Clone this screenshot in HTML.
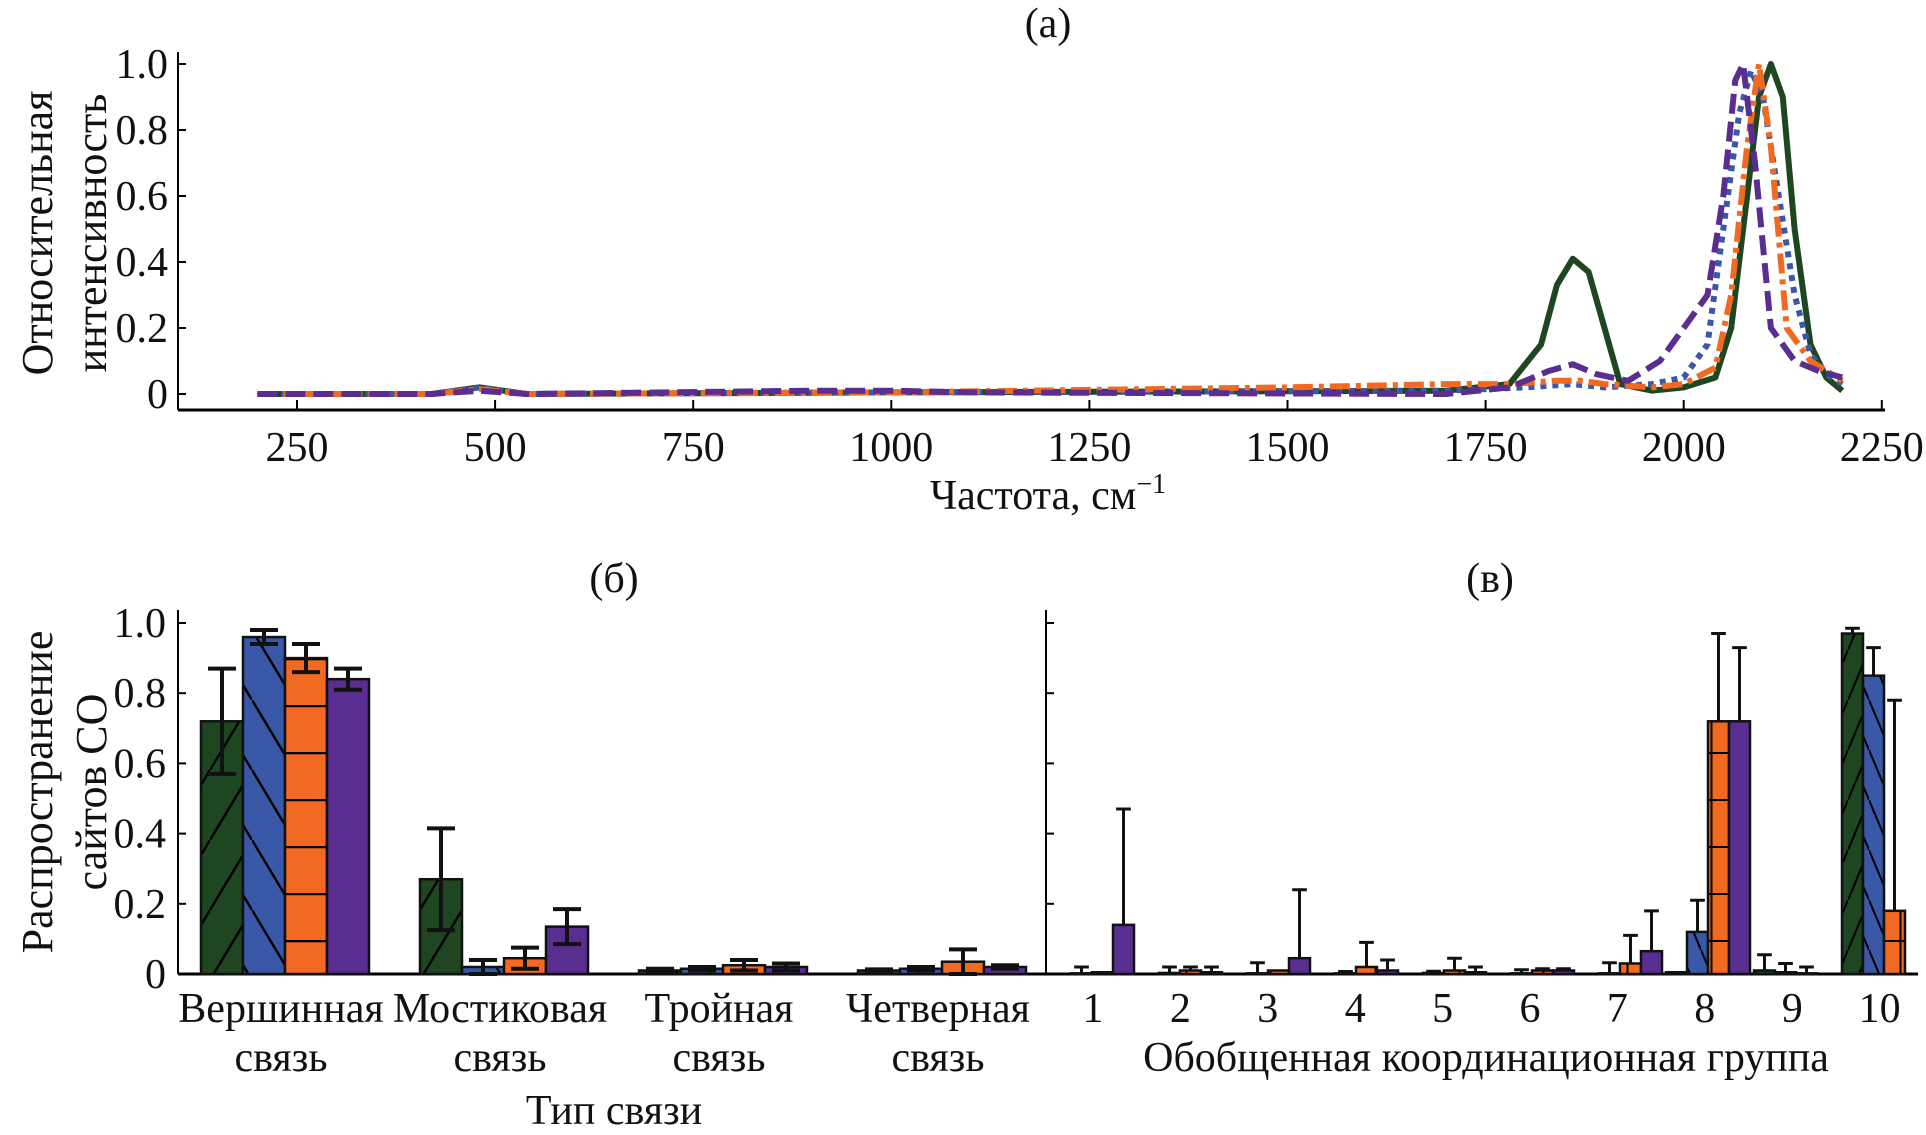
<!DOCTYPE html>
<html><head><meta charset="utf-8"><style>
html,body{margin:0;padding:0;background:#fff}
svg{display:block;font-family:"Liberation Serif",serif}
</style></head><body>
<svg id="c" width="1926" height="1135" viewBox="0 0 1926 1135">
<defs>
<pattern id="hg" width="42" height="140" patternUnits="userSpaceOnUse"><rect width="42" height="140" fill="#1e4620"/><path d="M0,140 L42,70 M0,70 L42,0" stroke="#000" stroke-width="2.5"/></pattern>
<pattern id="hb" width="42" height="140" patternUnits="userSpaceOnUse"><rect width="42" height="140" fill="#3a58a8"/><path d="M0,70 L42,140 M0,0 L42,70" stroke="#000" stroke-width="2.5"/></pattern>
<pattern id="ho" width="42" height="47" patternUnits="userSpaceOnUse"><rect width="42" height="47" fill="#f26a22"/><path d="M0,1 L42,1" stroke="#000" stroke-width="2.5"/></pattern>
<pattern id="hg2" width="21" height="100" patternUnits="userSpaceOnUse"><rect width="21" height="100" fill="#1e4620"/><path d="M0,100 L21,50 M0,50 L21,0" stroke="#000" stroke-width="2"/></pattern>
<pattern id="hb2" width="21" height="100" patternUnits="userSpaceOnUse"><rect width="21" height="100" fill="#3a58a8"/><path d="M0,50 L21,100 M0,0 L21,50" stroke="#000" stroke-width="2"/></pattern>
<pattern id="ho2" width="21" height="47" patternUnits="userSpaceOnUse"><rect width="21" height="47" fill="#f26a22"/><path d="M0,1 L21,1 M10.5,0 L10.5,47" stroke="#000" stroke-width="2"/></pattern>
</defs>
<g id="root"></g>
</svg>
<script>
// ---- panel (a) data ----
const freqTicks = [250,500,750,1000,1250,1500,1750,2000,2250];
const yTicksA = [0,0.2,0.4,0.6,0.8,1.0];
const yTickLabelsA = ["0","0.2","0.4","0.6","0.8","1.0"];
const greenF = [200,420,480,540,1000,1700,1780,1820,1840,1860,1880,1900,1920,1960,2000,2040,2060,2080,2095,2110,2125,2140,2160,2180,2200];
const greenV = [0,0,0.02,0,0.005,0.01,0.03,0.15,0.33,0.41,0.37,0.2,0.03,0.01,0.02,0.05,0.2,0.6,0.9,1.0,0.9,0.5,0.15,0.05,0.01];
const blueF = [200,420,480,540,1000,1700,1800,1860,1900,1960,2000,2030,2050,2070,2085,2100,2120,2140,2160,2180,2200];
const blueV = [0,0,0.02,0,0.005,0.01,0.02,0.03,0.02,0.03,0.05,0.15,0.5,0.85,0.98,0.9,0.6,0.3,0.12,0.06,0.03];
const orangeF = [200,420,480,540,1000,1500,1700,1780,1840,1870,1900,1960,2000,2040,2060,2080,2095,2110,2130,2160,2200];
const orangeV = [0,0,0.015,0,0.005,0.02,0.03,0.03,0.04,0.04,0.03,0.02,0.03,0.08,0.3,0.75,1.0,0.75,0.2,0.1,0.04];
const purpleF = [200,420,480,540,900,1000,1100,1700,1780,1830,1860,1890,1930,1970,2000,2030,2050,2065,2075,2090,2110,2140,2170,2200];
const purpleV = [0,0,0.01,0,0.01,0.01,0.005,0,0.02,0.07,0.09,0.06,0.04,0.1,0.2,0.3,0.6,0.95,1.0,0.7,0.2,0.1,0.07,0.05];
// ---- panel (б) data ----
const bondCats = [["Вершинная","связь"],["Мостиковая","связь"],["Тройная","связь"],["Четверная","связь"]];
const bondGreen = [0.72,0.27,0.01,0.01];
const bondGreenErr = [0.15,0.145,0.005,0.003];
const bondBlue = [0.96,0.02,0.015,0.015];
const bondBlueErr = [0.02,0.02,0.005,0.005];
const bondOrange = [0.90,0.045,0.025,0.035];
const bondOrangeErr = [0.04,0.03,0.015,0.035];
const bondPurple = [0.84,0.135,0.02,0.02];
const bondPurpleErr = [0.03,0.05,0.01,0.005];
// ---- panel (в) data ----
const groupCats = ["1","2","3","4","5","6","7","8","9","10"];
const grpGreen = [0,0,0,0,0,0,0,0.005,0.01,0.97];
const grpGreenErr = [0,0,0,0,0,0,0,0,0.045,0.015];
const grpBlue = [0.002,0.003,0.002,0.002,0.003,0.002,0.002,0.12,0.005,0.85];
const grpBlueErr = [0.018,0.017,0.03,0.005,0.005,0.01,0.03,0.09,0.025,0.08];
const grpOrange = [0.005,0.01,0.01,0.02,0.01,0.01,0.03,0.72,0.002,0.18];
const grpOrangeErr = [0,0.01,0.0,0.07,0.035,0.005,0.08,0.25,0.018,0.6];
const grpPurple = [0.14,0.005,0.045,0.01,0.005,0.01,0.065,0.72,0,0];
const grpPurpleErr = [0.33,0.015,0.195,0.03,0.015,0.005,0.115,0.21,0,0];

const NS="http://www.w3.org/2000/svg";
const root=document.getElementById('root');
function el(tag,attrs,parent){const e=document.createElementNS(NS,tag);for(const k in attrs)e.setAttribute(k,attrs[k]);(parent||root).appendChild(e);return e;}
function txt(x,y,s,size,anchor,parent){const t=el('text',{x:x,y:y,'font-size':size,'text-anchor':anchor||'middle',fill:'#111'},parent);t.textContent=s;return t;}
const FS=42;

// ===== Panel a =====
const ax0=178, ax1=1885, ayBase=410;
const xA=f=>297+(f-250)*0.7924;
const yA=v=>394-v*330;
const gA=el('g',{});


let t=txt(1048,37,"(a)",FS,'middle',gA);

let l=el('line',{x1:ax0,y1:52,x2:ax0,y2:ayBase,stroke:'#000','stroke-width':2},gA);

l=el('line',{x1:ax0,y1:ayBase,x2:ax1,y2:ayBase,stroke:'#000','stroke-width':3},gA);

yTicksA.forEach((v,i)=>{el('line',{x1:ax0,y1:yA(v),x2:ax0+8,y2:yA(v),stroke:'#000','stroke-width':2},gA);
 const tt=txt(ax0-10,yA(v)+14,yTickLabelsA[i],FS,'end',gA);
 });
freqTicks.forEach(f=>{el('line',{x1:xA(f),y1:ayBase,x2:xA(f),y2:ayBase-10,stroke:'#000','stroke-width':2},gA);
 const tt=txt(xA(f),461,String(f),FS,'middle',gA);
 });
t=txt(1048,509,"Частота, см",FS,'middle',gA);

const sup=el('tspan',{dy:-16,'font-size':28},t);sup.textContent="−1";
const yl=el('g',{transform:'translate(0,233) rotate(-90)'},gA);
t=txt(0,52,"Относительная",FS+2,'middle',yl);
t=txt(0,106,"интенсивность",FS+2,'middle',yl);
function series(F,V,color,dash,name){const d=F.map((f,i)=>(i?'L':'M')+xA(f).toFixed(1)+','+yA(V[i]).toFixed(1)).join(' ');
 const p=el('path',{d:d,fill:'none',stroke:color,'stroke-width':6,'stroke-dasharray':dash,'stroke-linejoin':'round'},gA);
 }
series(greenF,greenV,'#1e4620','none','series-green-solid');
series(blueF,blueV,'#3a58a8','6 6','series-blue-dotted');
series(orangeF,orangeV,'#f26a22','20 6 5 6','series-orange-dashdot');
series(purpleF,purpleV,'#5a2d91','20 8','series-purple-dashed');

// ===== bars helper =====
const yB=v=>974-v*351;
function bar(x,w,v,fill,err,g,name,oneSided){
 const r=el('rect',{x:x,y:yB(v),width:w,height:974-yB(v),fill:fill,stroke:'#111','stroke-width':2.5},g);
 
 if(err>0){const cx=x+w/2,cw=Math.min(w*0.35,14);
  const lo=oneSided?v:v-err;
  let d=`M${cx},${yB(lo)} L${cx},${yB(v+err)} M${cx-cw},${yB(v+err)} L${cx+cw},${yB(v+err)}`;
  if(!oneSided)d+=` M${cx-cw},${yB(v-err)} L${cx+cw},${yB(v-err)}`;
  const e=el('path',{d:d,stroke:'#111','stroke-width':w>30?4:3,fill:'none'},g);
  }
}
// ===== Panel б =====
const gB=el('g',{});


t=txt(614,592,"(б)",FS,'middle',gB);
l=el('line',{x1:178,y1:610,x2:178,y2:974,stroke:'#000','stroke-width':2},gB);
l=el('line',{x1:178,y1:974,x2:1918,y2:974,stroke:'#000','stroke-width':3},gB);
yTicksA.forEach((v,i)=>{el('line',{x1:178,y1:yB(v),x2:186,y2:yB(v),stroke:'#000','stroke-width':2},gB);
 const tt=txt(166,yB(v)+14,yTickLabelsA[i],FS,'end',gB);});
const ylb=el('g',{transform:'translate(0,792) rotate(-90)'},gB);
t=txt(0,52,"Распространение",FS+2,'middle',ylb);
t=txt(0,106,"сайтов CO",FS+2,'middle',ylb);
const bw=42, xB=i=>285+i*219;
bondCats.forEach((c,i)=>{const x=xB(i);
 bar(x-2*bw,bw,bondGreen[i],'url(#hg)',bondGreenErr[i],gB,'bar-green');
 bar(x-bw,bw,bondBlue[i],'url(#hb)',bondBlueErr[i],gB,'bar-blue');
 bar(x,bw,bondOrange[i],'url(#ho)',bondOrangeErr[i],gB,'bar-orange');
 bar(x+bw,bw,bondPurple[i],'#5a2d91',bondPurpleErr[i],gB,'bar-purple');
 let a=txt(x-4,1022,c[0],FS,'middle',gB);
 a=txt(x-4,1071,c[1],FS,'middle',gB);});
t=txt(614,1124,"Тип связи",FS,'middle',gB);
// ===== Panel в =====
const gC=el('g',{});


t=txt(1490,592,"(в)",FS,'middle',gC);
l=el('line',{x1:1046,y1:610,x2:1046,y2:974,stroke:'#000','stroke-width':2},gC);
yTicksA.forEach(v=>{el('line',{x1:1046,y1:yB(v),x2:1054,y2:yB(v),stroke:'#000','stroke-width':2},gC);});
const cw=21, xC=i=>1092+i*88, xL=i=>1093+i*87.4;
groupCats.forEach((c,i)=>{const x=xC(i);
 bar(x-2*cw,cw,grpGreen[i],'url(#hg2)',grpGreenErr[i],gC,'bar-green',true);
 bar(x-cw,cw,grpBlue[i],'url(#hb2)',grpBlueErr[i],gC,'bar-blue',true);
 bar(x,cw,grpOrange[i],'url(#ho2)',grpOrangeErr[i],gC,'bar-orange',true);
 bar(x+cw,cw,grpPurple[i],'#5a2d91',grpPurpleErr[i],gC,'bar-purple',true);
 const a=txt(xL(i),1022,c,FS,'middle',gC);});
t=txt(1486,1071,"Обобщенная координационная группа",FS,'middle',gC);
</script>
</body></html>
